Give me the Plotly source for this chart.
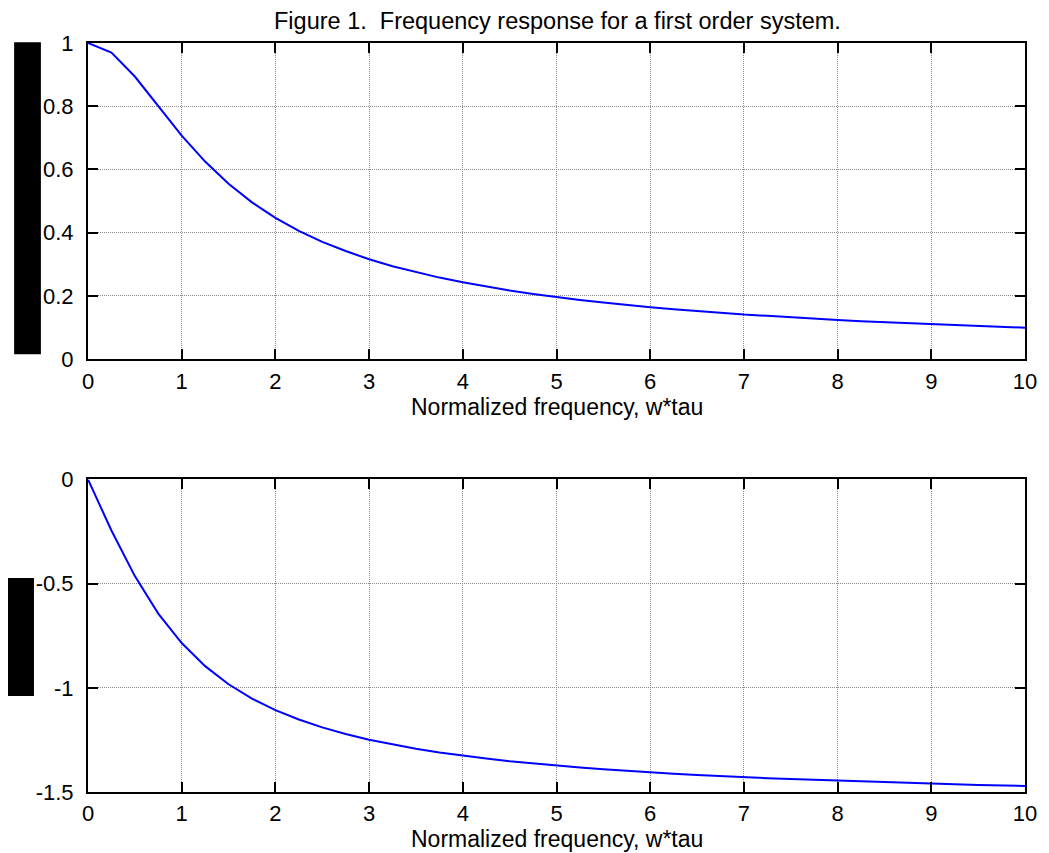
import plotly.graph_objects as go
from plotly.subplots import make_subplots

w_tau = [0, 0.25, 0.5, 0.75, 1, 1.25, 1.5, 1.75, 2, 2.25, 2.5, 2.75, 3, 3.25, 3.5, 3.75,
         4, 4.25, 4.5, 4.75, 5, 5.25, 5.5, 5.75, 6, 6.25, 6.5, 6.75, 7, 7.25, 7.5, 7.75,
         8, 8.25, 8.5, 8.75, 9, 9.25, 9.5, 9.75, 10]
magnitude = [1.0, 0.970, 0.894, 0.800, 0.707, 0.625, 0.555, 0.496, 0.447, 0.406, 0.371,
             0.342, 0.316, 0.294, 0.275, 0.258, 0.243, 0.229, 0.217, 0.206, 0.196, 0.187,
             0.179, 0.171, 0.164, 0.158, 0.152, 0.147, 0.141, 0.137, 0.132, 0.128, 0.124,
             0.120, 0.117, 0.114, 0.110, 0.108, 0.105, 0.102, 0.0995]
phase = [0, -0.245, -0.464, -0.644, -0.785, -0.896, -0.983, -1.052, -1.107, -1.152, -1.190,
         -1.222, -1.249, -1.272, -1.292, -1.310, -1.326, -1.339, -1.352, -1.363, -1.373,
         -1.383, -1.391, -1.399, -1.406, -1.412, -1.418, -1.424, -1.429, -1.434, -1.438,
         -1.442, -1.446, -1.450, -1.454, -1.457, -1.460, -1.463, -1.466, -1.469, -1.471]

x_ticks = [0, 1, 2, 3, 4, 5, 6, 7, 8, 9, 10]
mag_ticks = [0, 0.2, 0.4, 0.6, 0.8, 1]
mag_labels = ["0", "0.2", "0.4", "0.6", "0.8", "1"]
phase_ticks = [-1.5, -1, -0.5, 0]
phase_labels = ["-1.5", "-1", "-0.5", "0"]

title_text = "Figure 1.  Frequency response for a first order system."
xlabel = "Normalized frequency, w*tau"

# page has an 8px body margin; work in reference page pixels and convert
OFF = 8
W, H = 1041, 845
ml = 87.5 - OFF
mt = 42.7 - OFF
mr = W - (1032.5 - OFF)
mb = H - (792 - OFF)
ph = H - mt - mb
pw = W - ml - mr

def py(pix):
    return (H - mb - (pix - OFF)) / ph

def px(pix):
    return ((pix - OFF) - ml) / pw

fig = make_subplots(rows=2, cols=1)
fig.add_trace(go.Scatter(x=w_tau, y=magnitude, mode="lines",
                         line=dict(color="#0000ff", width=2), showlegend=False), row=1, col=1)
fig.add_trace(go.Scatter(x=w_tau, y=phase, mode="lines",
                         line=dict(color="#0000ff", width=2), showlegend=False), row=2, col=1)

FAM = "Liberation Sans, Arial, sans-serif"
font = dict(family=FAM, size=22, color="black")
axis_common = dict(showline=True, linecolor="black", linewidth=2, mirror="ticks",
                   ticks="inside", ticklen=10, tickwidth=2, tickcolor="black",
                   showgrid=True, gridcolor="#8a8a8a", griddash="1px,1px", gridwidth=1,
                   zeroline=False, tickfont=font)

fig.update_xaxes(range=[0, 10], tickvals=x_ticks, ticktext=[str(t) for t in x_ticks],
                 ticklabelstandoff=1, **axis_common)
fig.update_yaxes(ticklabelstandoff=8, **axis_common)
fig.update_yaxes(range=[0, 1], tickvals=mag_ticks, ticktext=mag_labels, row=1, col=1)
fig.update_yaxes(range=[-1.5, 0], tickvals=phase_ticks, ticktext=phase_labels, row=2, col=1)

fig.update_layout(
    xaxis=dict(domain=[0, 1]), xaxis2=dict(domain=[0, 1]),
    yaxis=dict(domain=[py(359), 1]),
    yaxis2=dict(domain=[0, py(479.3)]),
    width=W, height=H,
    margin=dict(l=ml, r=mr, t=mt, b=mb, pad=0),
    plot_bgcolor="white", paper_bgcolor="white",
    font=font,
)

fig.add_annotation(text=title_text, x=px(561), y=py(21), xref="paper", yref="paper",
                   xanchor="center", yanchor="middle", showarrow=False,
                   font=dict(family=FAM, size=23.5, color="black"))
fig.add_annotation(text=xlabel, x=px(560), y=py(407), xref="paper", yref="paper",
                   xanchor="center", yanchor="middle", showarrow=False,
                   font=dict(family=FAM, size=23, color="black"))
fig.add_annotation(text=xlabel, x=px(560), y=py(839), xref="paper", yref="paper",
                   xanchor="center", yanchor="middle", showarrow=False,
                   font=dict(family=FAM, size=23, color="black"))

fig.add_shape(type="rect", xref="paper", yref="paper", x0=px(13), x1=px(40), y0=py(354), y1=py(42),
              fillcolor="black", line=dict(width=0))
fig.add_shape(type="rect", xref="paper", yref="paper", x0=px(6), x1=px(33), y0=py(696), y1=py(578),
              fillcolor="black", line=dict(width=0))

fig.write_html("out.html")
